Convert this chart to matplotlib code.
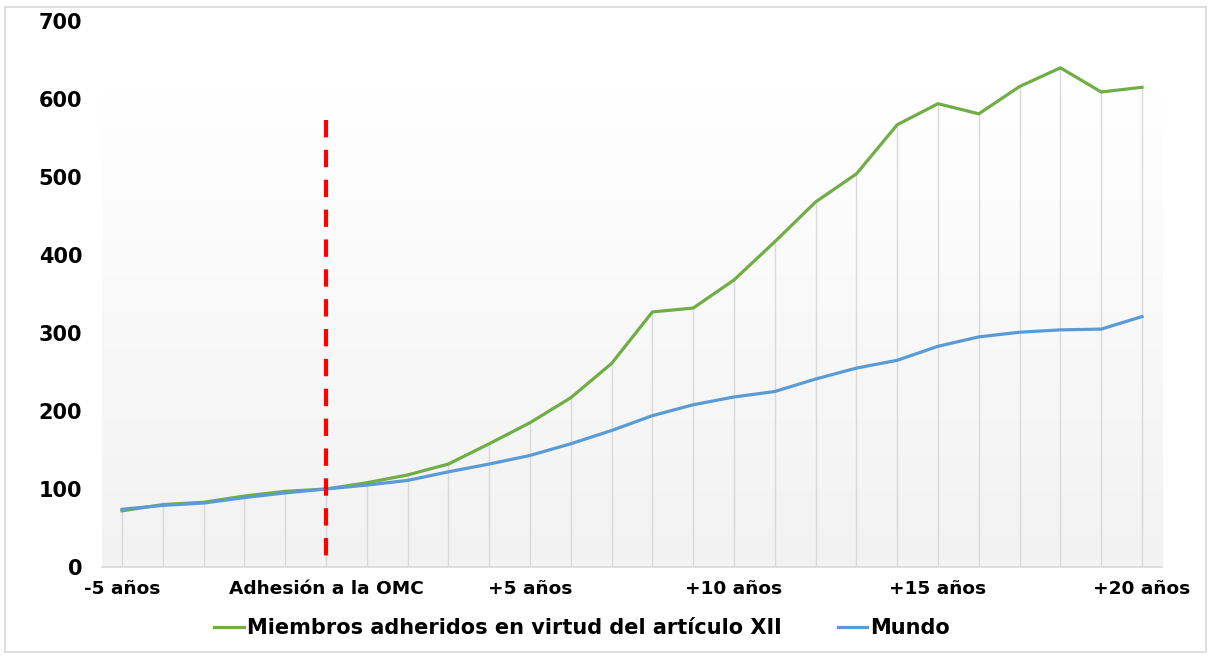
import matplotlib
matplotlib.use("Agg")
import matplotlib.pyplot as plt
import numpy as np
from matplotlib.patches import Rectangle
from matplotlib.colors import LinearSegmentedColormap

# ---- data ----
years = list(range(-5, 21))
tick_positions = [-5, 0, 5, 10, 15, 20]
tick_labels = ["-5 años", "Adhesión a la OMC", "+5 años", "+10 años", "+15 años", "+20 años"]
miembros = [72, 80, 83, 91, 97, 100, 108, 118, 132, 158, 185, 217, 261, 327, 332,
            368, 417, 468, 504, 567, 594, 581, 616, 640, 609, 615]
mundo = [74, 79, 82, 89, 95, 100, 105, 111, 122, 132, 143, 158, 175, 194, 208,
         218, 225, 241, 255, 265, 283, 295, 301, 304, 305, 321]
series_names = ["Miembros adheridos en virtud del artículo XII", "Mundo"]
accession_year = 0
accession_line_top = 573
y_ticks = [0, 100, 200, 300, 400, 500, 600, 700]

plt.rcParams['font.family'] = ['DejaVu Sans']
plt.rcParams['lines.scale_dashes'] = False

W, H = 1208, 655
fig = plt.figure(figsize=(W / 100, H / 100), dpi=100)
fig.patch.set_facecolor("white")

# chart border
fig.add_artist(Rectangle((5 / W, 3 / H), 1201 / W, (H - 10) / H, transform=fig.transFigure,
                         fill=False, edgecolor="#d9d9d9", linewidth=1.2))

left, right = 101.6 / W, 1162.4 / W
bottom, top = 1 - 567 / H, 1 - 21 / H
ax = fig.add_axes([left, bottom, right - left, top - bottom])
ax.set_xlim(-5.5, 20.5)
ax.set_ylim(0, 700)
ax.set_facecolor("none")

# gradient plot-area background
cmap = LinearSegmentedColormap.from_list("g", ["#f2f2f2", "#ffffff"])
grad = np.linspace(0, 1, 256).reshape(-1, 1)
ax.imshow(grad, extent=(-5.5, 20.5, 0, 608), origin="lower", aspect="auto",
          cmap=cmap, zorder=0, interpolation="bicubic")

# drop lines
tops = [max(a, b) for a, b in zip(miembros, mundo)]
ax.vlines(years, 0, tops, colors="#d9d9d9", linewidth=1.0, zorder=1)

ax.plot(years, miembros, color="#70ad47", linewidth=2.3, label=series_names[0], zorder=3,
        solid_joinstyle="round")
ax.plot(years, mundo, color="#5b9bd5", linewidth=2.3, label=series_names[1], zorder=3,
        solid_joinstyle="round")

ax.plot([accession_year, accession_year], [accession_line_top, 0], color="#ff0000",
        linewidth=3.0, dashes=(12.5, 9.0), zorder=4, solid_capstyle="butt",
        dash_capstyle="butt")

for s in ["left", "right", "top"]:
    ax.spines[s].set_visible(False)
ax.spines["bottom"].set_color("#d9d9d9")
ax.spines["bottom"].set_linewidth(1.2)

ax.set_yticks(y_ticks)
ax.set_yticklabels([str(v) for v in y_ticks])
ax.set_xticks(tick_positions)
ax.set_xticklabels(tick_labels)
ax.tick_params(axis="y", length=0, pad=14, labelsize=15)
ax.tick_params(axis="x", length=0, pad=9, labelsize=13.3)
for lab in ax.get_xticklabels() + ax.get_yticklabels():
    lab.set_fontweight("bold")

leg = fig.legend(loc="center", bbox_to_anchor=(582 / W, 1 - 628 / H), ncol=2, frameon=False,
                 prop={"weight": "bold", "size": 15}, handlelength=1.4, handletextpad=0.15,
                 columnspacing=2.7)

fig.savefig("out.png", dpi=100)
